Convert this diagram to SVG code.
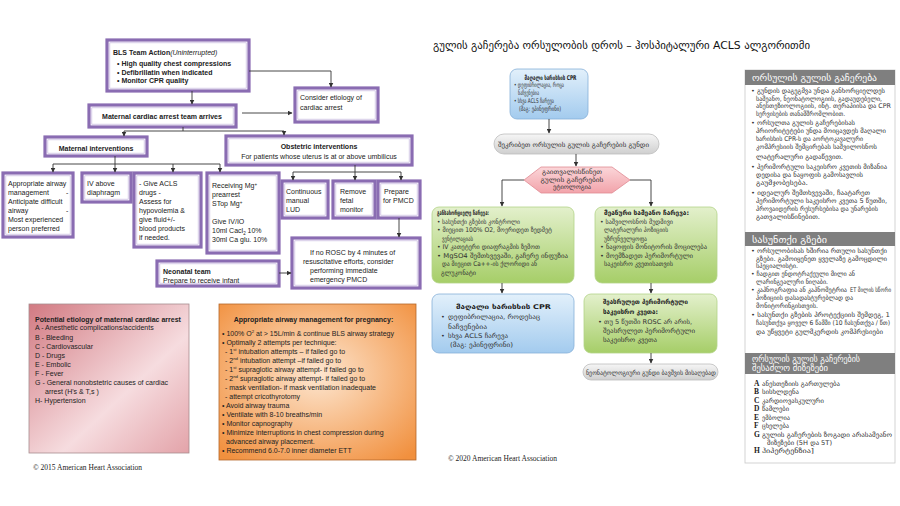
<svg xmlns="http://www.w3.org/2000/svg" width="900" height="506" viewBox="0 0 900 506">
<style>
.en{font-family:'Liberation Sans',Arial,sans-serif;font-size:7px;fill:#222}
.b{font-weight:bold}
.i{font-style:italic;font-weight:normal}
.ka{font-family:'DejaVu Sans',sans-serif;font-size:6.5px;fill:#333}
.kab{font-family:'DejaVu Sans',sans-serif;font-size:6.5px;font-weight:bold;fill:#222}
.kh{font-family:'DejaVu Sans',sans-serif;font-size:8.5px;fill:#fff}
.ser{font-family:'Liberation Serif','Times New Roman',serif;font-size:7.5px;fill:#222}
.lt{font-family:'Liberation Serif','Times New Roman',serif;font-size:7.5px;font-weight:bold;fill:#222}
.po{fill:#fff;stroke:#8a6cb2;stroke-width:3.2}
.pi{fill:none;stroke:#c4b4dc;stroke-width:0.7}
.conn{stroke:#333;stroke-width:0.9;fill:none}
.mid{text-anchor:middle}
</style>
<defs>
<marker id="ar" markerWidth="5" markerHeight="5" refX="4.5" refY="2.5" orient="auto" markerUnits="userSpaceOnUse">
<path d="M0,0 L5,2.5 L0,5 Z" fill="#333"/>
</marker>
<linearGradient id="gBlue" x1="0" y1="0" x2="0" y2="1"><stop offset="0" stop-color="#e2f0fb"/><stop offset="1" stop-color="#a3cbee"/></linearGradient>
<linearGradient id="gGray" x1="0" y1="0" x2="0" y2="1"><stop offset="0" stop-color="#f6f6f6"/><stop offset="1" stop-color="#cfcfcf"/></linearGradient>
<linearGradient id="gPink" x1="0" y1="0" x2="0" y2="1"><stop offset="0" stop-color="#fbd6d9"/><stop offset="1" stop-color="#f2a3aa"/></linearGradient>
<linearGradient id="gGreen" x1="0" y1="0" x2="0" y2="1"><stop offset="0" stop-color="#e3f0cc"/><stop offset="1" stop-color="#a6ce68"/></linearGradient>
<linearGradient id="gEt" x1="0" y1="0" x2="1" y2="1"><stop offset="0" stop-color="#d27a82"/><stop offset="0.6" stop-color="#f6dcdf"/><stop offset="1" stop-color="#e3a3a9"/></linearGradient>
<radialGradient id="gOr" cx="0.5" cy="0.45" r="0.7"><stop offset="0" stop-color="#fde6d0"/><stop offset="1" stop-color="#f1903e"/></radialGradient>
</defs>

<!-- LEFT (2015) FIGURE -->
<g id="bls">
<rect class="po" x="107" y="40" width="142" height="51"/><rect class="pi" x="109.8" y="42.8" width="136.4" height="45.4"/>
<text class="en b" x="113" y="55">BLS Team Action<tspan class="i">(Uninterrupted)</tspan></text>
<text class="en b" x="117" y="66">• High quality chest compressions</text>
<text class="en b" x="117" y="74.5">• Defibrillatin when indicated</text>
<text class="en b" x="117" y="83">• Monitor CPR quality</text>
</g>
<g id="team-arrives">
<rect class="po" x="89" y="105" width="147" height="22"/><rect class="pi" x="91.8" y="107.8" width="141.4" height="16.4"/>
<text class="en b mid" x="162" y="119">Maternal cardiac arrest team arrives</text>
</g>
<g id="consider-etiology">
<rect class="po" x="295" y="88" width="83" height="34"/><rect class="pi" x="297.8" y="90.8" width="77.4" height="28.4"/>
<text class="en" x="300" y="100">Consider etiology of</text>
<text class="en" x="300" y="109.5">cardiac arrest</text>
</g>
<g id="maternal-interventions">
<rect class="po" x="45" y="137" width="102" height="19"/><rect class="pi" x="47.8" y="139.8" width="96.4" height="13.4"/>
<text class="en b mid" x="96" y="150.5">Maternal interventions</text>
</g>
<g id="obstetric-interventions">
<rect class="po" x="226" y="136" width="186" height="29"/><rect class="pi" x="228.8" y="138.8" width="180.4" height="23.4"/>
<text class="en b mid" x="319" y="148.5">Obstetric interventions</text>
<text class="en mid" x="319" y="158.5">For patients whose uterus is at or above umbilicus</text>
</g>
<g id="airway-mgmt">
<rect class="po" x="3" y="173" width="70" height="64"/><rect class="pi" x="5.8" y="175.8" width="64.4" height="58.4"/>
<text class="en" x="8" y="185.5">Appropriate airway</text>
<text class="en" x="8" y="194.5">management<tspan x="66">-</tspan></text>
<text class="en" x="8" y="203.5">Anticipate difficult</text>
<text class="en" x="8" y="212.5">airway<tspan x="66">-</tspan></text>
<text class="en" x="8" y="221.5">Most experienced</text>
<text class="en" x="8" y="230.5">person preferred</text>
</g>
<g id="iv-above">
<rect class="po" x="82" y="173" width="49" height="29"/><rect class="pi" x="84.8" y="175.8" width="43.4" height="23.4"/>
<text class="en" x="87" y="185.5">IV above</text>
<text class="en" x="87" y="194.5">diaphragm</text>
</g>
<g id="acls-drugs">
<rect class="po" x="134" y="173" width="67" height="74"/><rect class="pi" x="136.8" y="175.8" width="61.4" height="68.4"/>
<text class="en" x="139" y="185.5">- Give ACLS</text>
<text class="en" x="139" y="194.5">drugs -</text>
<text class="en" x="139" y="203.5">Assess for</text>
<text class="en" x="139" y="212.5">hypovolemia &amp;</text>
<text class="en" x="139" y="221.5">give fluid+/-</text>
<text class="en" x="139" y="230.5">blood products</text>
<text class="en" x="139" y="239.5">if needed.</text>
</g>
<g id="mg">
<rect class="po" x="207" y="173" width="72" height="80"/><rect class="pi" x="209.8" y="175.8" width="66.4" height="74.4"/>
<text class="en" x="212" y="188">Receiving Mg<tspan font-size="4.5" dy="-2.5">+</tspan></text>
<text class="en" x="212" y="197">prearrest</text>
<text class="en" x="212" y="206">STop Mg<tspan font-size="4.5" dy="-2.5">+</tspan></text>
<text class="en" x="212" y="224">Give IV/IO</text>
<text class="en" x="212" y="233">10ml Cacl<tspan font-size="4.5" dy="1.5">2</tspan><tspan dy="-1.5"> 10%</tspan></text>
<text class="en" x="212" y="242">30ml Ca glu. 10%</text>
</g>
<g id="lud">
<rect class="po" x="282" y="181" width="46" height="37"/><rect class="pi" x="284.8" y="183.8" width="40.4" height="31.4"/>
<text class="en" x="286" y="193.5">Continuous</text>
<text class="en" x="286" y="202.5">manual</text>
<text class="en" x="286" y="211.5">LUD</text>
</g>
<g id="fetal-monitor">
<rect class="po" x="333" y="181" width="42" height="37"/><rect class="pi" x="335.8" y="183.8" width="36.4" height="31.4"/>
<text class="en" x="340" y="193.5">Remove</text>
<text class="en" x="340" y="202.5">fetal</text>
<text class="en" x="340" y="211.5">monitor</text>
</g>
<g id="prepare-pmcd">
<rect class="po" x="378" y="181" width="42" height="37"/><rect class="pi" x="380.8" y="183.8" width="36.4" height="31.4"/>
<text class="en" x="384" y="193.5">Prepare</text>
<text class="en" x="383" y="202.5">for PMCD</text>
</g>
<g id="rosc">
<rect class="po" x="292" y="238" width="128" height="50"/><rect class="pi" x="294.8" y="240.8" width="122.4" height="44.4"/>
<text class="en" x="310" y="254.5">If no ROSC by 4 minutes of</text>
<text class="en" x="303" y="263.5">resuscitative efforts, consider</text>
<text class="en" x="310" y="272.5">performing immediate</text>
<text class="en" x="310" y="281.5">emergency PMCD</text>
</g>
<g id="neonatal">
<rect class="po" x="157" y="261" width="122" height="25"/><rect class="pi" x="159.8" y="263.8" width="116.4" height="19.4"/>
<text class="en b" x="163" y="273.5">Neonatal team</text>
<text class="en" x="163" y="283">Prepare to receive infant</text>
</g>
<g id="etiology-2015">
<rect x="29" y="304" width="160" height="149" fill="url(#gEt)" stroke="#a78d8f" stroke-width="0.8"/>
<text class="en b" x="35" y="321.5" font-size="6.8">Potential etiology of maternal cardiac arrest</text>
<text class="en" x="35" y="330" font-size="6.8">A - Anesthetic complications/accidents</text>
<text class="en" x="35" y="339.5" font-size="6.8">B - Bleeding</text>
<text class="en" x="35" y="348.5" font-size="6.8">C - Cardiovascular</text>
<text class="en" x="35" y="357.5" font-size="6.8">D - Drugs</text>
<text class="en" x="35" y="366.5" font-size="6.8">E - Embolic</text>
<text class="en" x="35" y="375.5" font-size="6.8">F - Fever</text>
<text class="en" x="35" y="384.5" font-size="6.8">G - General nonobstetric causes of cardiac</text>
<text class="en" x="45" y="394" font-size="6.8">arrest (H's &amp; T,s )</text>
<text class="en" x="35" y="403" font-size="6.8">H- Hypertension</text>
</g>
<text class="ser" x="33" y="470">© 2015 American Heart Association</text>
<g id="airway-pregnancy">
<rect x="219" y="304" width="197" height="156" fill="url(#gOr)" stroke="#b4682c" stroke-width="0.8"/>
<text class="en b mid" x="313.5" y="321.5" font-size="6.8">Appropriate airway management for pregnancy:</text>
<text class="en" x="222" y="335.5" font-size="6.8">• 100% O<tspan font-size="4.3" dy="-2.5">2</tspan><tspan dy="2.5"> at &gt; 15L/min &amp; continue BLS airway strategy</tspan></text>
<text class="en" x="222" y="344.5" font-size="6.8">• Optimally 2 attempts per technique:</text>
<text class="en" x="225" y="353.5" font-size="6.8">- 1<tspan font-size="4.3" dy="-2.5">st</tspan><tspan dy="2.5">  intubation attempts – if failed go to</tspan></text>
<text class="en" x="225" y="362.5" font-size="6.8">- 2<tspan font-size="4.3" dy="-2.5">nd</tspan><tspan dy="2.5">  intubation attempt –if failed go to</tspan></text>
<text class="en" x="225" y="371.5" font-size="6.8">- 1<tspan font-size="4.3" dy="-2.5">st</tspan><tspan dy="2.5"> supraglotic airway attempt- if failed go to</tspan></text>
<text class="en" x="225" y="380.5" font-size="6.8">- 2<tspan font-size="4.3" dy="-2.5">nd</tspan><tspan dy="2.5">  supraglotic airway attempt- if failed go to</tspan></text>
<text class="en" x="225" y="389.5" font-size="6.8">- mask ventilation- if mask ventilation inadequate</text>
<text class="en" x="225" y="398.5" font-size="6.8">- attempt cricothyrotomy</text>
<text class="en" x="222" y="407.5" font-size="6.8">• Avoid airway trauma</text>
<text class="en" x="222" y="416.5" font-size="6.8">• Ventilate with 8-10 breaths/min</text>
<text class="en" x="222" y="425.5" font-size="6.8">• Monitor capnography</text>
<text class="en" x="222" y="435" font-size="6.8">• Minimize interruptions in chest compression during</text>
<text class="en" x="226" y="444" font-size="6.8">advanced airway placement.</text>
<text class="en" x="222" y="453" font-size="6.8">• Recommend 6.0-7.0 inner diameter ETT</text>
</g>

<!-- MIDDLE (2020, Georgian) -->
<text font-family="'DejaVu Sans',sans-serif" font-size="11" fill="#111" x="433" y="48.5" textLength="377" lengthAdjust="spacingAndGlyphs">გულის გაჩერება ორსულობის დროს –  ჰოსპიტალური ACLS ალგორითმი</text>
<g id="cpr1">
<rect x="510" y="69" width="78" height="50" rx="7" fill="url(#gBlue)" stroke="#86b0d8" stroke-width="0.8"/>
<text class="kab mid" x="550.5" y="79.5" font-size="5.6" textLength="52" lengthAdjust="spacingAndGlyphs">მაღალი ხარისხის CPR</text>
<text class="ka" x="514" y="87" font-size="5.2" textLength="50" lengthAdjust="spacingAndGlyphs">• დეფიბრილაცია, როცა</text>
<text class="ka" x="518" y="94.5" font-size="5.2" textLength="21" lengthAdjust="spacingAndGlyphs">ნაჩვენებია</text>
<text class="ka" x="514" y="103" font-size="5.2" textLength="40" lengthAdjust="spacingAndGlyphs">• სხვა ACLS ჩარევა</text>
<text class="ka" x="519" y="110.5" font-size="5.2" textLength="42" lengthAdjust="spacingAndGlyphs">(მაგ: ეპინეფრინი)</text>
</g>
<g id="assemble-team">
<rect x="494" y="134" width="165" height="20" rx="10" fill="url(#gGray)" stroke="#bdbdbd" stroke-width="0.8"/>
<text class="ka mid" x="573.5" y="146.5" font-size="6.4" textLength="151" lengthAdjust="spacingAndGlyphs">შეკრიბეთ ორსულის გულის გაჩერების გუნდი</text>
</g>
<g id="etiology-hex">
<polygon points="524,180 541,167 612,167 630,180 612,193 541,193" fill="url(#gPink)" stroke="#e08a93" stroke-width="0.8"/>
<text class="ka mid" x="572" y="174" font-size="6.2" textLength="60" lengthAdjust="spacingAndGlyphs">გაითვალისწინეთ</text>
<text class="ka mid" x="572" y="181.5" font-size="6.2" textLength="63" lengthAdjust="spacingAndGlyphs">გულის გაჩერების</text>
<text class="ka mid" x="572" y="189" font-size="6.2" textLength="38" lengthAdjust="spacingAndGlyphs">ეტიოლოგია</text>
</g>
<g id="maternal-ka">
<rect x="432" y="207" width="142" height="76" rx="7" fill="url(#gGreen)" stroke="#b3d388" stroke-width="0.8"/>
<text class="kab" x="437" y="215" font-size="6" textLength="52" lengthAdjust="spacingAndGlyphs">განსახორციელე ჩარევა:</text>
<text class="ka" x="437" y="223.5" textLength="83" lengthAdjust="spacingAndGlyphs">• სასუნთქი გზების კონტროლი</text>
<text class="ka" x="437" y="232" textLength="115" lengthAdjust="spacingAndGlyphs">• მიეცით 100% O2, მოერიდეთ ზედმეტ</text>
<text class="ka" x="442" y="240.5" textLength="31" lengthAdjust="spacingAndGlyphs">ვენტილაციას</text>
<text class="ka" x="437" y="249" textLength="103" lengthAdjust="spacingAndGlyphs">• IV კათეტერი დიაფრაგმის ზემოთ</text>
<text class="ka" x="437" y="257.5" textLength="131" lengthAdjust="spacingAndGlyphs">• MgSO4 შემთხვევაში, გაჩერე ინფუზია</text>
<text class="ka" x="442" y="266" textLength="95" lengthAdjust="spacingAndGlyphs">და მიეცით Ca++-ის ქლორიდი ან</text>
<text class="ka" x="441" y="274.5" textLength="35" lengthAdjust="spacingAndGlyphs">გლუკონატი</text>
</g>
<g id="obstetric-ka">
<rect x="595" y="207" width="122" height="76" rx="7" fill="url(#gGreen)" stroke="#b3d388" stroke-width="0.8"/>
<text class="kab" x="604" y="215" font-size="6" textLength="85" lengthAdjust="spacingAndGlyphs">მეანური სამეანო ჩარევა:</text>
<text class="ka" x="600" y="223.5" textLength="73" lengthAdjust="spacingAndGlyphs">• საშვილოსნოს მუდმივი</text>
<text class="ka" x="604" y="232" textLength="64" lengthAdjust="spacingAndGlyphs">ლატერალური პოზიციის</text>
<text class="ka" x="604" y="240.5" textLength="43" lengthAdjust="spacingAndGlyphs">უზრუნველყოფა</text>
<text class="ka" x="600" y="249" textLength="107" lengthAdjust="spacingAndGlyphs">• ნაყოფის მონიტორის მოცილება</text>
<text class="ka" x="600" y="257.5" textLength="93" lengthAdjust="spacingAndGlyphs">• მოემზადეთ პერიმორტული</text>
<text class="ka" x="604" y="266" textLength="69" lengthAdjust="spacingAndGlyphs">საკეისრო კვეთისათვის</text>
</g>
<g id="cpr2">
<rect x="432" y="294" width="142" height="59" rx="7" fill="url(#gBlue)" stroke="#86b0d8" stroke-width="0.8"/>
<text class="kab mid" x="503.5" y="308.5" font-size="8" textLength="95" lengthAdjust="spacingAndGlyphs">მაღალი ხარისხის CPR</text>
<text class="ka" x="441" y="319" font-size="7.4">•</text><text class="ka" x="448" y="319" font-size="7.4" textLength="92" lengthAdjust="spacingAndGlyphs">დეფიბრილაცია, როდესაც</text>
<text class="ka" x="448" y="328.5" font-size="7.4" textLength="39" lengthAdjust="spacingAndGlyphs">ნაჩვენებია</text>
<text class="ka" x="441" y="338" font-size="7.4">•</text><text class="ka" x="448" y="338" font-size="7.4" textLength="60" lengthAdjust="spacingAndGlyphs">სხვა ACLS ჩარევა</text>
<text class="ka" x="450" y="347" font-size="7.4" textLength="63" lengthAdjust="spacingAndGlyphs">(მაგ: ეპინეფრინი)</text>
</g>
<g id="pmcd-ka">
<rect x="584" y="294" width="133" height="59" rx="7" fill="url(#gGreen)" stroke="#b3d388" stroke-width="0.8"/>
<text class="kab" x="603" y="304" font-size="6.8" textLength="85" lengthAdjust="spacingAndGlyphs">შეასრულეთ პერიმორტული</text>
<text class="kab" x="603" y="313.5" font-size="6.8" textLength="55" lengthAdjust="spacingAndGlyphs">საკეისრო კვეთა:</text>
<text class="ka" x="598" y="324" font-size="7.2" textLength="94" lengthAdjust="spacingAndGlyphs">• თუ 5 წუთში ROSC არ არის,</text>
<text class="ka" x="603" y="333" font-size="7.2" textLength="92" lengthAdjust="spacingAndGlyphs">შეასრულეთ პერიმორტული</text>
<text class="ka" x="603" y="342" font-size="7.2" textLength="54" lengthAdjust="spacingAndGlyphs">საკეისრო კვეთა</text>
</g>
<g id="neonatal-ka">
<rect x="583" y="364" width="135" height="16" rx="8" fill="url(#gGray)" stroke="#bdbdbd" stroke-width="0.8"/>
<text class="ka mid" x="651" y="374.5" font-size="5" textLength="130" lengthAdjust="spacingAndGlyphs">ნეონატოლოგიური გუნდი ბავშვის მისაღებად</text>
</g>
<text class="ser" x="448" y="461">© 2020 American Heart Association</text>

<!-- RIGHT PANELS -->
<g id="panel-maternal-arrest">
<rect x="745" y="70" width="150" height="393" fill="#fff" stroke="#c9c9c9" stroke-width="0.8"/>
<rect x="745" y="70" width="150" height="15" fill="#7f7f7f"/>
<text class="kh" x="752" y="81" textLength="125" lengthAdjust="spacingAndGlyphs">ორსულის გულის გაჩერება</text>
<text class="ka" x="751" y="93" textLength="134" lengthAdjust="spacingAndGlyphs">• გუნდის დაგეგმვა უნდა განხორციელდეს</text>
<text class="ka" x="756" y="100.5" textLength="126" lengthAdjust="spacingAndGlyphs">სამეანო, ნეონატოლოგიის, გადაუდებელი,</text>
<text class="ka" x="756" y="108" textLength="135" lengthAdjust="spacingAndGlyphs">ანესთეზიოლოგიის, ინტ. თერაპიისა და CPR</text>
<text class="ka" x="756" y="115.5" textLength="89" lengthAdjust="spacingAndGlyphs">სერვისების თანამშრომლობით.</text>
<text class="ka" x="751" y="125" textLength="104" lengthAdjust="spacingAndGlyphs">• ორსულთა გულის გაჩერებისას</text>
<text class="ka" x="756" y="133" textLength="130" lengthAdjust="spacingAndGlyphs">პრიორიტეტები უნდა მოიცავდეს მაღალი</text>
<text class="ka" x="756" y="141" textLength="107" lengthAdjust="spacingAndGlyphs">ხარისხის CPR-ს და აორტოკავალური</text>
<text class="ka" x="756" y="149" textLength="121" lengthAdjust="spacingAndGlyphs">კომპრესიის შემცირებას საშვილოსნოს</text>
<text class="ka" x="756" y="159" textLength="87" lengthAdjust="spacingAndGlyphs">ლატერალური გადაწევით.</text>
<text class="ka" x="751" y="169" textLength="136" lengthAdjust="spacingAndGlyphs">• პერიმორტული საკეისრო კვეთის მიზანია</text>
<text class="ka" x="756" y="177" textLength="107" lengthAdjust="spacingAndGlyphs">დედისა და ნაყოფის გამოსავლის</text>
<text class="ka" x="756" y="185" textLength="52" lengthAdjust="spacingAndGlyphs">გაუმჯობესება.</text>
<text class="ka" x="751" y="195" textLength="119" lengthAdjust="spacingAndGlyphs">• იდეალურ შემთხვევაში, ჩაატარეთ</text>
<text class="ka" x="756" y="203" textLength="131" lengthAdjust="spacingAndGlyphs">პერიმორტული საკეისრო კვეთა 5 წუთში,</text>
<text class="ka" x="756" y="211" textLength="122" lengthAdjust="spacingAndGlyphs">პროვაიდერის რესურსებისა და უნარების</text>
<text class="ka" x="756" y="219" textLength="64" lengthAdjust="spacingAndGlyphs">გათვალისწინებით.</text>
</g>
<g id="panel-airway">
<rect x="745" y="232" width="150" height="14" fill="#7f7f7f"/>
<text class="kh" x="752" y="242.5" textLength="75" lengthAdjust="spacingAndGlyphs">სასუნთქი გზები</text>
<text class="ka" x="751" y="253" textLength="136" lengthAdjust="spacingAndGlyphs">• ორსულობისას ხშირია რთული სასუნთქი</text>
<text class="ka" x="756" y="260.5" textLength="131" lengthAdjust="spacingAndGlyphs">გზები. გამოიყენეთ ყველაზე გამოცდილი</text>
<text class="ka" x="756" y="268" textLength="42" lengthAdjust="spacingAndGlyphs">სპეციალისტი.</text>
<text class="ka" x="751" y="276" textLength="104" lengthAdjust="spacingAndGlyphs">• ჩადგით ენდოტრაქეული მილი ან</text>
<text class="ka" x="756" y="284" textLength="72" lengthAdjust="spacingAndGlyphs">ლარინგეალური ნიღაბი.</text>
<text class="ka" x="751" y="292" textLength="96" lengthAdjust="spacingAndGlyphs">• კაპნოგრაფია ან კაპნომეტრია</text>
<text class="ka" x="850" y="292" font-size="5.4" textLength="41" lengthAdjust="spacingAndGlyphs">ET მილის სწორი</text>
<text class="ka" x="756" y="300" textLength="97" lengthAdjust="spacingAndGlyphs">პოზიციის დასადასტურებლად და</text>
<text class="ka" x="756" y="308" textLength="62" lengthAdjust="spacingAndGlyphs">მონიტორინგისთვის.</text>
<text class="ka" x="751" y="317" textLength="139" lengthAdjust="spacingAndGlyphs">• სასუნთქი გზების პროტექციის შემდეგ, 1</text>
<text class="ka" x="756" y="325" textLength="134" lengthAdjust="spacingAndGlyphs">ჩასუნთქვა ყოველ 6 წამში (10 ჩასუნთქვა / წთ)</text>
<text class="ka" x="756" y="334" textLength="127" lengthAdjust="spacingAndGlyphs">და უწყვეტი გულმკერდის კომპრესიები</text>
</g>
<g id="panel-etiology">
<rect x="745" y="353" width="150" height="21" fill="#7f7f7f"/>
<text class="kh" x="752" y="361.5" font-size="7.6" textLength="108" lengthAdjust="spacingAndGlyphs">ორსულის გულის გაჩერების</text>
<text class="kh" x="752" y="371" font-size="7.6" textLength="76" lengthAdjust="spacingAndGlyphs">შესაძლო მიზეზები</text>
<text class="lt" x="754" y="385.5">A</text><text class="ka" x="762" y="385.5" font-size="7" textLength="78" lengthAdjust="spacingAndGlyphs">ანესთეზიის გართულება</text>
<text class="lt" x="754" y="394">B</text><text class="ka" x="762" y="394" font-size="7" textLength="37" lengthAdjust="spacingAndGlyphs">სისხლდენა</text>
<text class="lt" x="754" y="402.5">C</text><text class="ka" x="762" y="402.5" font-size="7" textLength="62" lengthAdjust="spacingAndGlyphs">კარდიოვასკულური</text>
<text class="lt" x="754" y="411">D</text><text class="ka" x="762" y="411" font-size="7" textLength="27" lengthAdjust="spacingAndGlyphs">წამლები</text>
<text class="lt" x="754" y="419.5">E</text><text class="ka" x="762" y="419.5" font-size="7" textLength="28" lengthAdjust="spacingAndGlyphs">ემბოლია</text>
<text class="lt" x="754" y="428">F</text><text class="ka" x="762" y="428" font-size="7" textLength="27" lengthAdjust="spacingAndGlyphs">ცხელება</text>
<text class="lt" x="754" y="436.5">G</text><text class="ka" x="762" y="436.5" font-size="7" textLength="130" lengthAdjust="spacingAndGlyphs">გულის გაჩერების ზოგადი არასამეანო</text>
<text class="ka" x="767" y="444.5" font-size="7" textLength="65" lengthAdjust="spacingAndGlyphs">მიზეზები (5H და 5T)</text>
<text class="lt" x="754" y="453">H</text><text class="ka" x="762" y="453" font-size="7" textLength="52" lengthAdjust="spacingAndGlyphs">ჰიპერტენზია]</text>
</g>

<g id="connectors">
<path class="conn" d="M192,91 V104" marker-end="url(#ar)"/>
<path class="conn" d="M249,71 H331 V87" marker-end="url(#ar)"/>
<path class="conn" d="M242,113 H292" marker-end="url(#ar)"/>
<path class="conn" d="M183,127 V131 M124,131 H284"/>
<path class="conn" d="M124,131 V136" marker-end="url(#ar)"/>
<path class="conn" d="M284,131 V135" marker-end="url(#ar)"/>
<path class="conn" d="M115,156 V164 M53,164 H220"/>
<path class="conn" d="M53,164 V172" marker-end="url(#ar)"/>
<path class="conn" d="M115,164 V172" marker-end="url(#ar)"/>
<path class="conn" d="M173,164 V172" marker-end="url(#ar)"/>
<path class="conn" d="M220,164 V172" marker-end="url(#ar)"/>
<path class="conn" d="M355,165 V172 M293,172 H401"/>
<path class="conn" d="M293,172 V180" marker-end="url(#ar)"/>
<path class="conn" d="M355,172 V180" marker-end="url(#ar)"/>
<path class="conn" d="M401,172 V180" marker-end="url(#ar)"/>
<path class="conn" d="M399,218 V237" marker-end="url(#ar)"/>
<path class="conn" d="M279,273 H291" marker-end="url(#ar)"/>
<path class="conn" d="M549,119 V133" marker-end="url(#ar)"/>
<path class="conn" d="M576,154 V166" marker-end="url(#ar)"/>
<path class="conn" d="M524,180 H502 V206" marker-end="url(#ar)"/>
<path class="conn" d="M630,180 H651 V206" marker-end="url(#ar)"/>
<path class="conn" d="M502,283 V293" marker-end="url(#ar)"/>
<path class="conn" d="M651,283 V293" marker-end="url(#ar)"/>
<path class="conn" d="M651,353 V363" marker-end="url(#ar)"/>
</g>
</svg>
